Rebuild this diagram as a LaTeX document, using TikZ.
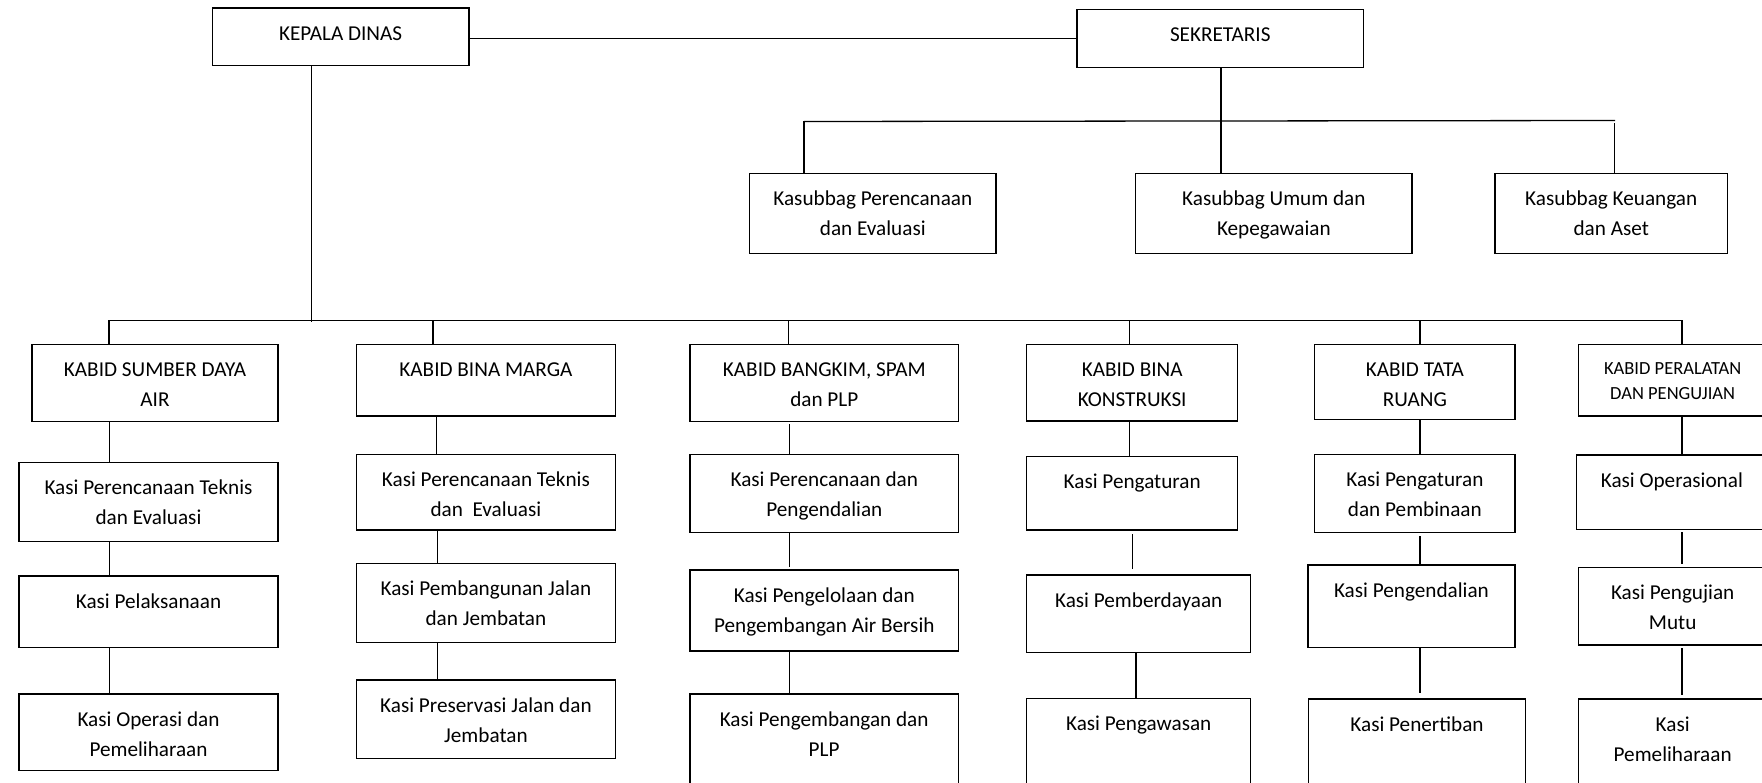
\documentclass[tikz,border=0pt]{standalone}
\usepackage{fontspec}
\setmainfont{Carlito}
\newlength\orgtop
\tikzset{
  orgbase/.style={draw, line width=1.4pt, inner sep=0pt, outer sep=0pt},
  orgbox/.style={orgbase, font=\fontsize{21.2pt}{29.8pt}\selectfont, execute at begin node={\setlength\orgtop{32.2pt}}},
  orgsmall/.style={orgbase, font=\fontsize{18.5pt}{25.7pt}\selectfont, execute at begin node={\setlength\orgtop{30pt}}},
  link/.style={line width=1.3pt},
}
\newcommand{\orgnode}[7]{\node[#1, anchor=north west] (#2) at (#3,#4) {\parbox[c][\dimexpr #6pt-#4pt\relax][t]{\dimexpr #5pt-#3pt\relax}{\centering\rule{0pt}{\orgtop}#7}};}
\begin{document}
\begin{tikzpicture}[x=1pt,y=-1pt]
\useasboundingbox (0,0) rectangle (1762,783);
% top level
\orgnode{orgbox}{kd}{212.4}{7.9}{468.8}{65.5}{KEPALA DINAS}
\orgnode{orgbox}{sek}{1077}{9.7}{1363.5}{67.3}{SEKRETARIS}
\orgnode{orgbox}{kpe}{749.6}{173.3}{996}{253.3}{Kasubbag Perencanaan\\dan Evaluasi}
\orgnode{orgbox}{ksu}{1135.7}{173.3}{1412}{253.3}{Kasubbag Umum dan\\Kepegawaian}
\orgnode{orgbox}{kke}{1495}{173.3}{1727.4}{253.3}{Kasubbag Keuangan\\dan Aset}
% column 1
\orgnode{orgbox}{h1}{32}{344.3}{278}{421.7}{KABID SUMBER DAYA\\AIR}
\orgnode{orgbox}{a1}{19}{462.7}{278}{541.7}{Kasi Perencanaan Teknis\\dan Evaluasi}
\orgnode{orgbox}{b1}{19}{576}{278}{647.7}{Kasi Pelaksanaan}
\orgnode{orgbox}{c1}{19}{694}{278}{770.5}{Kasi Operasi dan\\Pemeliharaan}
% column 2
\orgnode{orgbox}{h2}{356.3}{344.3}{615.5}{416}{KABID BINA MARGA}
\orgnode{orgbox}{a2}{356.3}{454.3}{615.5}{530}{Kasi Perencanaan Teknis\\dan\ \ Evaluasi}
\orgnode{orgbox}{b2}{356.3}{563.3}{615.5}{642.7}{Kasi Pembangunan Jalan\\dan Jembatan}
\orgnode{orgbox}{c2}{356.3}{680}{615.5}{758.5}{Kasi Preservasi Jalan dan\\Jembatan}
% column 3
\orgnode{orgbox}{h3}{690}{344.3}{958.6}{421.3}{KABID BANGKIM, SPAM\\dan PLP}
\orgnode{orgbox}{a3}{690}{454.3}{958.6}{532.7}{Kasi Perencanaan dan\\Pengendalian}
\orgnode{orgbox}{b3}{690}{570}{958.6}{651}{Kasi Pengelolaan dan\\Pengembangan Air Bersih}
\orgnode{orgbox}{c3}{690}{694}{958.3}{800}{Kasi Pengembangan dan\\PLP}
% column 4
\orgnode{orgbox}{h4}{1026.7}{344.3}{1237.7}{421}{KABID BINA\\KONSTRUKSI}
\orgnode{orgbox}{a4}{1026.7}{456.7}{1237.7}{530}{Kasi Pengaturan}
\orgnode{orgbox}{b4}{1026.7}{575}{1250.7}{652.7}{Kasi Pemberdayaan}
\orgnode{orgbox}{c4}{1026.7}{698.3}{1250.7}{800}{Kasi Pengawasan}
% column 5
\orgnode{orgbox}{h5}{1314.7}{344.3}{1515}{419.3}{KABID TATA\\RUANG}
\orgnode{orgbox}{a5}{1314.7}{454.3}{1515}{532.7}{Kasi Pengaturan\\dan Pembinaan}
\orgnode{orgbox}{b5}{1307.8}{565}{1515}{647.7}{Kasi Pengendalian}
\orgnode{orgbox}{c5}{1308.3}{699}{1525.7}{800}{Kasi Penertiban}
% column 6
\orgnode{orgsmall}{h6}{1578.3}{344.3}{1767}{416}{KABID PERALATAN\\DAN PENGUJIAN}
\orgnode{orgbox}{a6}{1576.7}{455}{1767}{529.3}{Kasi Operasional}
\orgnode{orgbox}{b6}{1578.3}{567.3}{1767}{645}{Kasi Pengujian\\Mutu}
\orgnode{orgbox}{c6}{1578.3}{699}{1767}{800}{Kasi\\Pemeliharaan}
% connector coordinates
\coordinate (sekv) at (1221,0);
\coordinate (kbL) at (804,121.5);
\coordinate (kbR) at (1615,120.5);
\coordinate (kbRd) at (1614.5,0);
\coordinate (kdv) at (311.5,322.5);
\coordinate (busL) at (109,320.5);
\coordinate (busR) at (1682,320.5);
\coordinate (d2) at (433,320.5);
\coordinate (d3) at (788.6,320.5);
\coordinate (d4) at (1129.3,320.5);
\coordinate (d5) at (1420,320.5);
\coordinate (x1) at (109.5,0);
\coordinate (x2a) at (436.5,0);
\coordinate (x2b) at (437.7,0);
\coordinate (x3) at (789.4,0);
\coordinate (x4a) at (1129.3,0);
\coordinate (x4b) at (1132.7,0);
\coordinate (x4c) at (1136,0);
\coordinate (x5) at (1420,0);
\coordinate (x6) at (1682,0);
% top connectors
\draw[link] (kd.east |- sek.west) -- (sek.west);
\draw[link] (sekv |- sek.south) -- (sekv |- ksu.north);
\draw[link] (kbL) -- (kbR);
\draw[link] (kbL) -- (kbL |- kpe.north);
\draw[link, shorten <=3pt] (kbRd |- kbR) -- (kbRd |- kke.north);
% main bus
\draw[link] (kdv |- kd.south) -- (kdv);
\draw[link] (busL) -- (busR);
\draw[link] (busL) -- (busL |- h1.north);
\draw[link] (d2) -- (d2 |- h2.north);
\draw[link] (d3) -- (d3 |- h3.north);
\draw[link] (d4) -- (d4 |- h4.north);
\draw[link] (d5) -- (d5 |- h5.north);
\draw[link] (busR) -- (busR |- h6.north);
% column 1
\draw[link] (x1 |- h1.south) -- (x1 |- a1.north);
\draw[link] (x1 |- a1.south) -- (x1 |- b1.north);
\draw[link] (x1 |- b1.south) -- (x1 |- c1.north);
% column 2
\draw[link] (x2a |- h2.south) -- (x2a |- a2.north);
\draw[link] (x2b |- a2.south) -- (x2b |- b2.north);
\draw[link] (x2b |- b2.south) -- (x2b |- c2.north);
% column 3
\draw[link, shorten <=3pt] (x3 |- h3.south) -- (x3 |- a3.north);
\draw[link, shorten >=2.7pt] (x3 |- a3.south) -- (x3 |- b3.north);
\draw[link] (x3 |- b3.south) -- (x3 |- c3.north);
% column 4
\draw[link] (x4a |- h4.south) -- (x4a |- a4.north);
\draw[link, shorten <=4.3pt, shorten >=6pt] (x4b |- a4.south) -- (x4b |- b4.north);
\draw[link] (x4c |- b4.south) -- (x4c |- c4.north);
% column 5
\draw[link] (x5 |- h5.south) -- (x5 |- a5.north);
\draw[link, shorten <=3.3pt] (x5 |- a5.south) -- (x5 |- b5.north);
\draw[link, shorten >=5.7pt] (x5 |- b5.south) -- (x5 |- c5.north);
% column 6
\draw[link] (x6 |- h6.south) -- (x6 |- a6.north);
\draw[link, shorten <=2.7pt, shorten >=3pt] (x6 |- a6.south) -- (x6 |- b6.north);
\draw[link, shorten <=3.3pt, shorten >=4pt] (x6 |- b6.south) -- (x6 |- c6.north);
\end{tikzpicture}
\end{document}
